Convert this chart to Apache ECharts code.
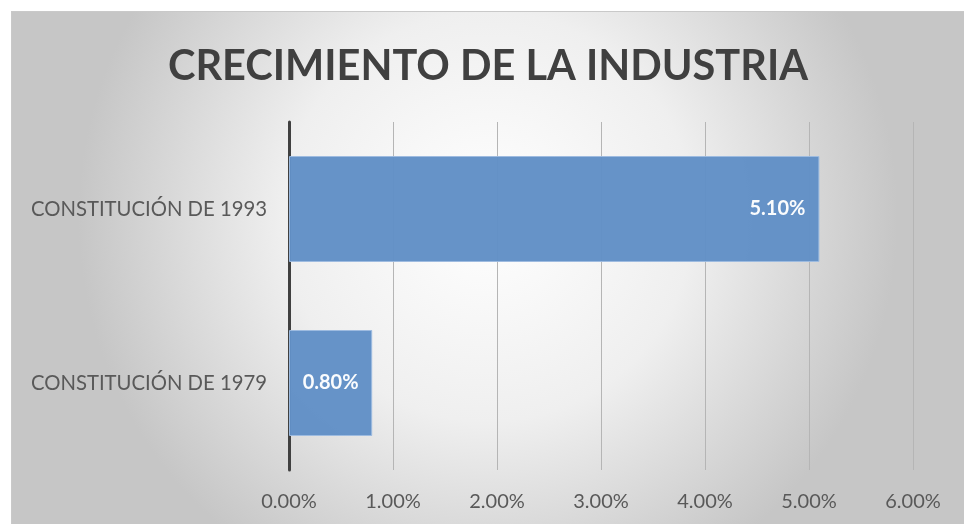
<!DOCTYPE html>
<html>
<head>
<meta charset="utf-8">
<script src="https://cdn.jsdelivr.net/npm/echarts@6/dist/echarts.min.js"></script>
<style>
  html,body{margin:0;padding:0;background:#fff}
  #chart{position:absolute;left:11px;top:11px;width:953px;height:513px;border-top:1px solid #c9c9c9;border-left:1px solid #c9c9c9;box-sizing:border-box}
</style>
</head>
<body>
<div id="chart"></div>
<script>
const categories = ['CONSTITUCIÓN DE 1979', 'CONSTITUCIÓN DE 1993']
const growth = [0.8, 5.1]
const labelPos = ['inside', 'insideRight']

const chart = echarts.init(document.getElementById('chart'))
const font = 'Lato, "Open Sans", sans-serif'

chart.setOption({
  animation: false,
  backgroundColor: {
    type: 'radial', x: 0.5, y: 0.4, r: 0.8,
    colorStops: [
      {offset: 0, color: '#ffffff'},
      {offset: 0.5, color: '#efefef'},
      {offset: 1, color: '#c6c6c6'}
    ]
  },
  title: {
    text: 'CRECIMIENTO DE LA INDUSTRIA',
    left: 'center', top: 29,
    textStyle: {fontFamily: font, fontWeight: 'bold', fontSize: 41.5, color: '#404040'}
  },
  grid: {left: 277, right: 51, top: 110, bottom: 54, containLabel: false},
  xAxis: {
    type: 'value', min: 0, max: 6, interval: 1,
    axisLine: {show: false},
    axisTick: {show: false},
    splitLine: {lineStyle: {color: '#b5b5b5', width: 1}},
    axisLabel: {
      formatter: v => v.toFixed(2) + '%',
      fontFamily: font, fontSize: 20, color: '#595959', margin: 22
    }
  },
  yAxis: {
    type: 'category', data: categories,
    axisLine: {lineStyle: {color: '#404040', width: 3}},
    axisTick: {show: false},
    axisLabel: {fontFamily: font, fontSize: 20.3, color: '#595959', margin: 22}
  },
  series: [{
    type: 'bar',
    barWidth: 106,
    data: growth.map((v, i) => ({
      value: v,
      label: {position: labelPos[i]}
    })),
    itemStyle: {color: '#6190c6', borderColor: '#9dbbe0', borderWidth: 1, opacity: 0.97},
    label: {
      show: true, distance: 14,
      formatter: p => p.value.toFixed(2) + '%',
      fontFamily: font, fontWeight: 'bold', fontSize: 20, color: '#ffffff'
    }
  }]
})
</script>
</body>
</html>
